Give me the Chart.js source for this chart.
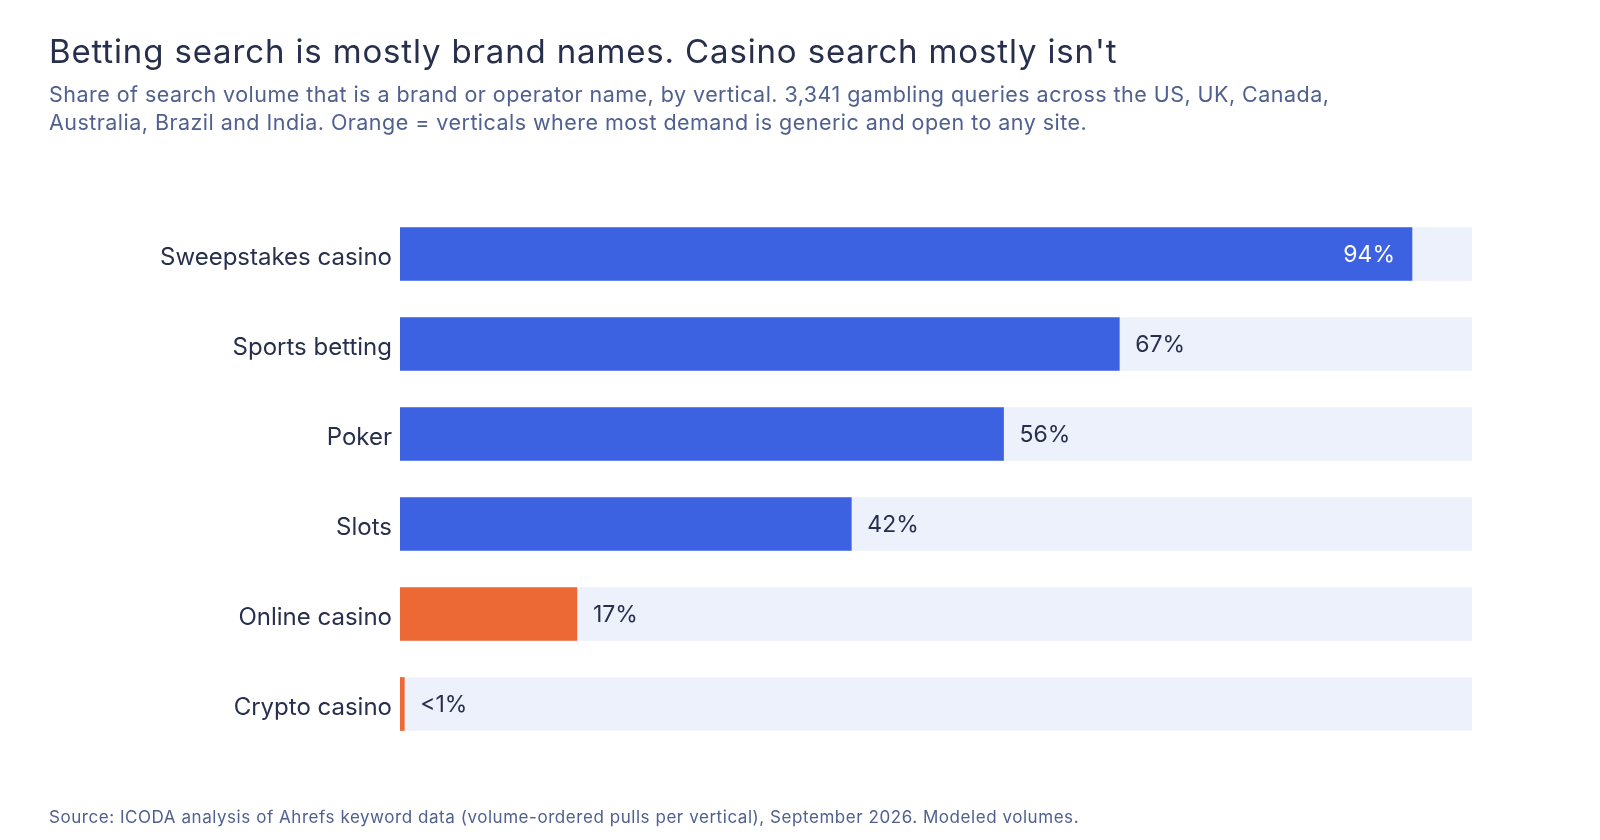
<!DOCTYPE html>
<html>
<head>
<meta charset="utf-8">
<script src="https://cdn.jsdelivr.net/npm/chart.js@4.4.1/dist/chart.umd.min.js"></script>
<style>
  html, body { margin: 0; padding: 0; background: #ffffff; }
  #wrap { position: relative; width: 1600px; height: 840px; }
  canvas { display: block; }
</style>
</head>
<body>
<div id="wrap"><canvas id="c" width="1600" height="840"></canvas></div>
<script>
// ---- data ----
const categories = ["Sweepstakes casino", "Sports betting", "Poker", "Slots", "Online casino", "Crypto casino"];
const brandShare = [94.4, 67.1, 56.3, 42.1, 16.5, 0.4];
const valueLabels = ["94%", "67%", "56%", "42%", "17%", "<1%"];
const isGeneric = [false, false, false, false, true, true];
const trackValues = [100, 100, 100, 100, 100, 100];

const titleText = "Betting search is mostly brand names. Casino search mostly isn't";
const subtitleLines = [
  "Share of search volume that is a brand or operator name, by vertical. 3,341 gambling queries across the US, UK, Canada,",
  "Australia, Brazil and India. Orange = verticals where most demand is generic and open to any site."
];
const footerText = "Source: ICODA analysis of Ahrefs keyword data (volume-ordered pulls per vertical), September 2026. Modeled volumes.";

// ---- styles ----
const FONT = "Inter, 'Noto Sans', sans-serif";
const BLUE = "#3c62e1";
const ORANGE = "#ec6935";
const TRACK = "#edf1fc";
const DARK = "#272f4c";
const SLATE = "#50608f";

function drawSpaced(ctx, text, x, y, spacing) {
  if ('letterSpacing' in ctx) {
    ctx.letterSpacing = spacing + 'px';
    ctx.fillText(text, x, y);
    ctx.letterSpacing = '0px';
  } else {
    let cx = x;
    for (const ch of text) {
      ctx.fillText(ch, cx, y);
      cx += ctx.measureText(ch).width + spacing;
    }
  }
}

const textPlugin = {
  id: 'texts',
  afterDraw(chart) {
    const ctx = chart.ctx;
    ctx.save();
    ctx.textAlign = 'left';
    ctx.textBaseline = 'alphabetic';
    ctx.fillStyle = DARK;
    ctx.font = "400 33px " + FONT;
    drawSpaced(ctx, titleText, 49, 62.5, 0.85);
    ctx.fillStyle = SLATE;
    ctx.font = "400 21.5px " + FONT;
    drawSpaced(ctx, subtitleLines[0], 49, 101.5, 0.46);
    drawSpaced(ctx, subtitleLines[1], 49, 129.5, 0.46);
    ctx.font = "400 17px " + FONT;
    drawSpaced(ctx, footerText, 49, 823, 0.55);
    ctx.restore();
  }
};

const valueLabelPlugin = {
  id: 'valueLabels',
  afterDatasetsDraw(chart) {
    const ctx = chart.ctx;
    const meta = chart.getDatasetMeta(0);
    ctx.save();
    ctx.font = "400 23px " + FONT;
    ctx.textBaseline = 'middle';
    meta.data.forEach((bar, i) => {
      const inside = brandShare[i] > 85;
      const y = bar.y + 1.5;
      if (inside) {
        ctx.fillStyle = '#ffffff';
        ctx.textAlign = 'right';
        ctx.fillText(valueLabels[i], bar.x - 17, y);
      } else {
        ctx.fillStyle = DARK;
        ctx.textAlign = 'left';
        ctx.fillText(valueLabels[i], bar.x + 16, y);
      }
    });
    ctx.restore();
  }
};

new Chart(document.getElementById('c'), {
  type: 'bar',
  data: {
    labels: categories,
    datasets: [
      {
        label: 'Brand share',
        data: brandShare,
        backgroundColor: isGeneric.map(g => g ? ORANGE : BLUE),
        barThickness: 53,
        grouped: false,
        order: 0
      },
      {
        label: 'Track',
        data: trackValues,
        backgroundColor: TRACK,
        barThickness: 53,
        grouped: false,
        order: 1
      }
    ]
  },
  options: {
    indexAxis: 'y',
    responsive: false,
    animation: false,
    events: [],
    layout: { padding: { top: 209, bottom: 91, left: 0, right: 128 } },
    plugins: {
      legend: { display: false },
      tooltip: { enabled: false },
      title: { display: false }
    },
    scales: {
      x: {
        display: false,
        min: 0,
        max: 100
      },
      y: {
        grid: { display: false, drawTicks: false },
        border: { display: false },
        afterFit(scale) { scale.width = 400; },
        ticks: {
          padding: 8,
          labelOffset: 4,
          color: DARK,
          font: { family: FONT, size: 24 }
        }
      }
    }
  },
  plugins: [textPlugin, valueLabelPlugin]
});
</script>
</body>
</html>
